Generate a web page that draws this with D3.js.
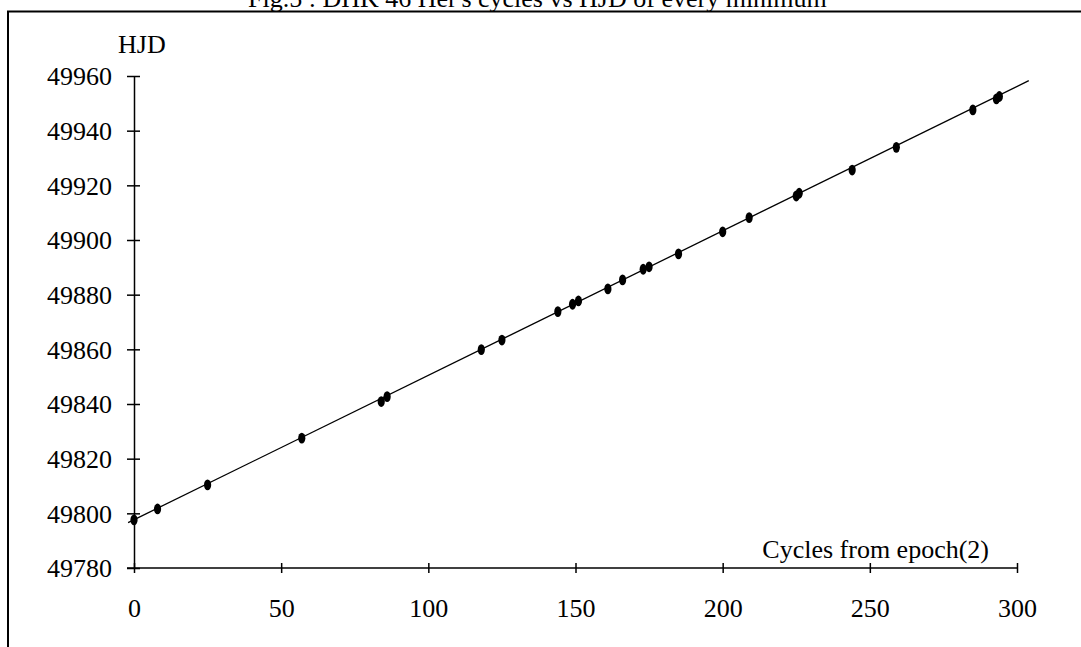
<!DOCTYPE html>
<html>
<head>
<meta charset="utf-8">
<script src="https://cdn.jsdelivr.net/npm/d3@7"></script>
<style>
    body { margin: 0; background: #fff; }
    svg { display: block; }
    text { font-family: "Liberation Serif", "Times New Roman", serif; fill: #000; }
    .axis path, .axis line { stroke: #000; stroke-width: 1.5; }
</style>
</head>
<body>
<script>
// minima: cycle number and HJD - 2400000
const cycles = [0, 8, 25, 57, 84, 86, 118, 125, 144, 149, 151, 161, 166, 173, 175, 185, 200, 209, 225, 226, 244, 259, 285, 293, 294];
const hjd = [49797.6, 49801.6, 49810.4, 49827.5, 49840.9, 49842.7, 49859.9, 49863.4, 49873.8, 49876.5, 49877.7, 49882.1, 49885.4, 49889.3, 49890.2, 49894.9, 49903.0, 49908.2, 49916.1, 49917.1, 49925.6, 49933.9, 49947.6, 49951.6, 49952.5];

// fitted line end points
const fitCycles = [-2, 304];
const fitHjd = [49796.6, 49958.3];

const xTicks = [0, 50, 100, 150, 200, 250, 300];
const yTicks = [49780, 49800, 49820, 49840, 49860, 49880, 49900, 49920, 49940, 49960];

const title = "Fig.5 : DHK 46 Her's cycles vs HJD of every minimum";

const W = 1081, H = 647;
const margin = { top: 76, right: 64, bottom: 79, left: 134 },
    width = W - margin.left - margin.right,
    height = H - margin.top - margin.bottom;

const x = d3.scaleLinear().domain([0, 300]).range([0, width]);
const y = d3.scaleLinear().domain([49780, 49960]).range([height, 0]);

const root = d3.select("body")
    .append("svg")
    .attr("width", W)
    .attr("height", H);

// frame (only top and left edges are visible)
root.append("line")
    .attr("x1", 7).attr("x2", W).attr("y1", 11.5).attr("y2", 11.5)
    .attr("stroke", "#000").attr("stroke-width", 2);
root.append("line")
    .attr("x1", 8).attr("x2", 8).attr("y1", 11).attr("y2", H)
    .attr("stroke", "#000").attr("stroke-width", 2);

root.append("text")
    .attr("x", 248)
    .attr("y", 7)
    .style("font-size", "26px")
    .text(title);

const svg = root.append("g")
    .attr("transform", "translate(" + margin.left + "," + margin.top + ")");

/**
 * Y-Axis
 */
const yAxis = svg.append("g")
    .attr("class", "axis")
    .call(d3.axisLeft(y).tickValues(yTicks).tickSizeOuter(0).tickFormat(d3.format("d")));

yAxis.selectAll(".tick line").attr("x1", -7).attr("x2", 6);
yAxis.selectAll(".tick text")
    .attr("x", -22)
    .attr("dy", "0.34em")
    .style("font-size", "26px");

/**
 * X-Axis
 */
const xAxis = svg.append("g")
    .attr("class", "axis")
    .attr("transform", "translate(0," + height + ")")
    .call(d3.axisBottom(x).tickValues(xTicks).tickSizeOuter(0));

xAxis.selectAll(".tick line").attr("y1", -5).attr("y2", 5);
xAxis.selectAll(".tick text")
    .attr("y", 49)
    .attr("dy", 0)
    .style("font-size", "26px");
xAxis.select(".domain").attr("d", "M-7,0H" + width);

svg.append("text")
    .attr("x", -16)
    .attr("y", -23)
    .style("font-size", "26px")
    .text("HJD");

svg.append("text")
    .attr("x", width - 28)
    .attr("y", height - 10)
    .attr("text-anchor", "end")
    .style("font-size", "26px")
    .text("Cycles from epoch(2)");

// fitted ephemeris line
svg.append("line")
    .attr("x1", x(fitCycles[0])).attr("y1", y(fitHjd[0]))
    .attr("x2", x(fitCycles[1])).attr("y2", y(fitHjd[1]))
    .attr("stroke", "#000")
    .attr("stroke-width", 1.3);

// minima
svg.selectAll(".dot")
    .data(cycles.map((c, i) => ({ c: c, h: hjd[i] })))
    .enter().append("ellipse")
    .attr("class", "dot")
    .attr("cx", d => x(d.c))
    .attr("cy", d => y(d.h))
    .attr("rx", 3.6)
    .attr("ry", 5.4)
    .attr("fill", "#000");
</script>
</body>
</html>
